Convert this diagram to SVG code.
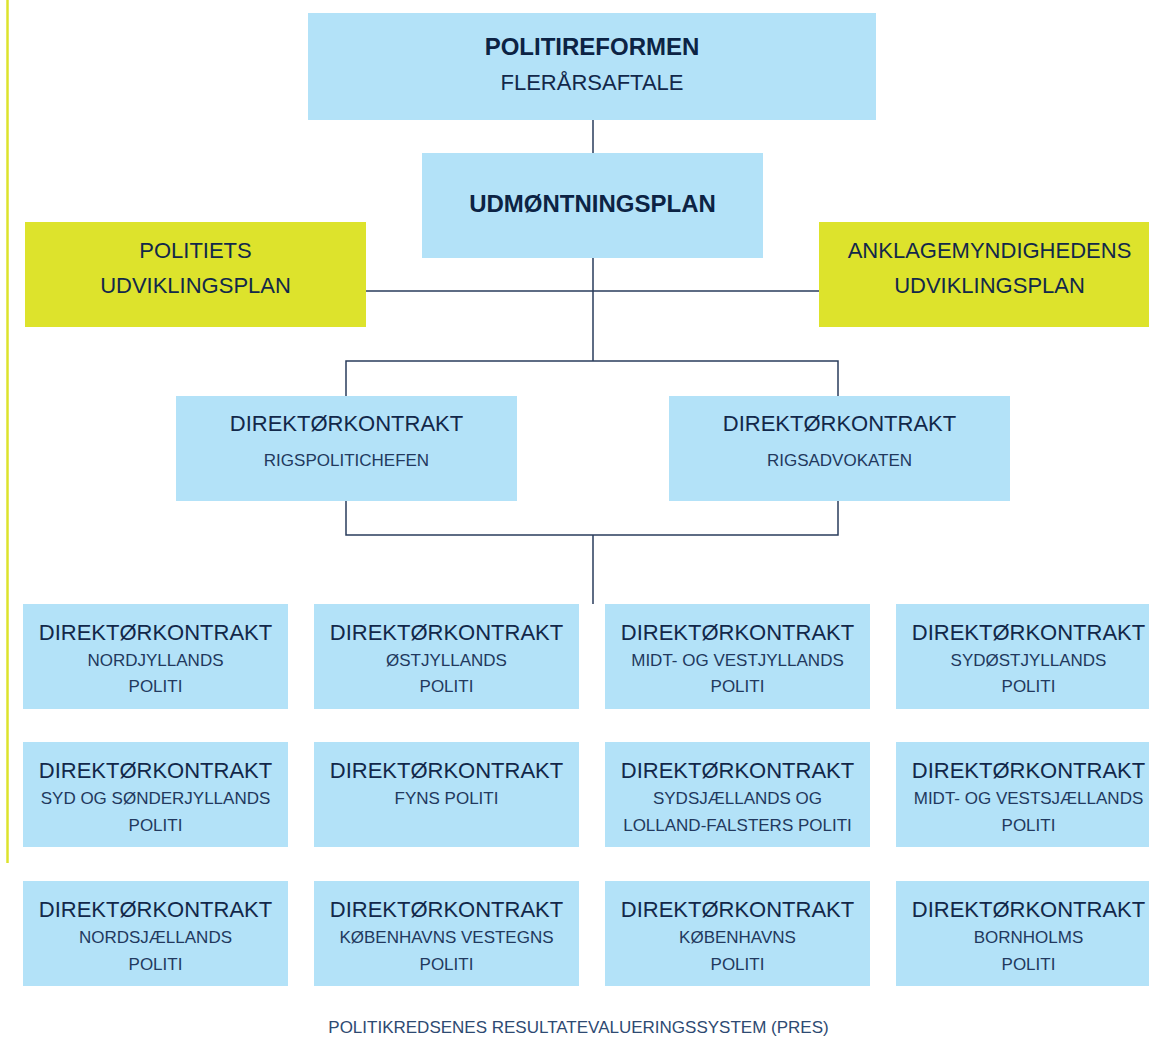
<svg xmlns="http://www.w3.org/2000/svg" width="1149" height="1038" viewBox="0 0 1149 1038">
<style>
.b{fill:#b3e2f8}
.y{fill:#dde32c}
text{font-family:"Liberation Sans",Arial,sans-serif;fill:#12284a;text-anchor:middle}
.t{font-size:22px}
.s{font-size:17px;fill:#22395e}
.h{font-size:24px;font-weight:bold;fill:#0c2344}
.f{font-size:17px;fill:#2e4a72}
.c{fill:none;stroke:#2a3d5c;stroke-width:1.5}
</style>
<rect x="0" y="0" width="1149" height="1038" fill="#ffffff"/>
<line x1="7.5" y1="0" x2="7.5" y2="863" stroke="#dde32c" stroke-width="2.5"/>
<g id="connectors" class="c">
<path d="M593 120V153M593 258V361M366 291H819M346 396V361H838V396M346 501V535H838V501M593 535V604"/>
</g>
<g id="politireformen"><rect class="b" x="308" y="13" width="568" height="107"/><text class="h" x="592" y="55">POLITIREFORMEN</text><text class="t" x="592" y="90">FLERÅRSAFTALE</text></g>
<g id="udmoentningsplan"><rect class="b" x="422" y="153" width="341" height="105"/><text class="h" x="592.5" y="212">UDMØNTNINGSPLAN</text></g>
<g id="politiets"><rect class="y" x="25" y="222" width="341" height="105"/><text class="t" x="195.5" y="258">POLITIETS</text><text class="t" x="195.5" y="293">UDVIKLINGSPLAN</text></g>
<g id="anklage"><rect class="y" x="819" y="222" width="341" height="105"/><text class="t" x="989.5" y="258">ANKLAGEMYNDIGHEDENS</text><text class="t" x="989.5" y="293">UDVIKLINGSPLAN</text></g>
<g id="rigspolitichefen"><rect class="b" x="176" y="396" width="341" height="105"/><text class="t" x="346.5" y="431">DIREKTØRKONTRAKT</text><text class="s" x="346.5" y="466">RIGSPOLITICHEFEN</text></g>
<g id="rigsadvokaten"><rect class="b" x="669" y="396" width="341" height="105"/><text class="t" x="839.5" y="431">DIREKTØRKONTRAKT</text><text class="s" x="839.5" y="466">RIGSADVOKATEN</text></g>

<g id="nordjylland"><rect class="b" x="23" y="604" width="265" height="105"/><text class="t" x="155.5" y="640">DIREKTØRKONTRAKT</text><text class="s" x="155.5" y="666">NORDJYLLANDS</text><text class="s" x="155.5" y="692">POLITI</text></g>
<g id="oestjylland"><rect class="b" x="314" y="604" width="265" height="105"/><text class="t" x="446.5" y="640">DIREKTØRKONTRAKT</text><text class="s" x="446.5" y="666">ØSTJYLLANDS</text><text class="s" x="446.5" y="692">POLITI</text></g>
<g id="midtvestjylland"><rect class="b" x="605" y="604" width="265" height="105"/><text class="t" x="737.5" y="640">DIREKTØRKONTRAKT</text><text class="s" x="737.5" y="666">MIDT- OG VESTJYLLANDS</text><text class="s" x="737.5" y="692">POLITI</text></g>
<g id="sydoestjylland"><rect class="b" x="896" y="604" width="265" height="105"/><text class="t" x="1028.5" y="640">DIREKTØRKONTRAKT</text><text class="s" x="1028.5" y="666">SYDØSTJYLLANDS</text><text class="s" x="1028.5" y="692">POLITI</text></g>

<g id="syd-soenderjylland"><rect class="b" x="23" y="742" width="265" height="105"/><text class="t" x="155.5" y="778">DIREKTØRKONTRAKT</text><text class="s" x="155.5" y="804">SYD OG SØNDERJYLLANDS</text><text class="s" x="155.5" y="831">POLITI</text></g>
<g id="fyn"><rect class="b" x="314" y="742" width="265" height="105"/><text class="t" x="446.5" y="778">DIREKTØRKONTRAKT</text><text class="s" x="446.5" y="804">FYNS POLITI</text></g>
<g id="sydsjaelland"><rect class="b" x="605" y="742" width="265" height="105"/><text class="t" x="737.5" y="778">DIREKTØRKONTRAKT</text><text class="s" x="737.5" y="804">SYDSJÆLLANDS OG</text><text class="s" x="737.5" y="831">LOLLAND-FALSTERS POLITI</text></g>
<g id="midtvestsjaelland"><rect class="b" x="896" y="742" width="265" height="105"/><text class="t" x="1028.5" y="778">DIREKTØRKONTRAKT</text><text class="s" x="1028.5" y="804">MIDT- OG VESTSJÆLLANDS</text><text class="s" x="1028.5" y="831">POLITI</text></g>

<g id="nordsjaelland"><rect class="b" x="23" y="881" width="265" height="105"/><text class="t" x="155.5" y="917">DIREKTØRKONTRAKT</text><text class="s" x="155.5" y="943">NORDSJÆLLANDS</text><text class="s" x="155.5" y="970">POLITI</text></g>
<g id="koebenhavns-vestegn"><rect class="b" x="314" y="881" width="265" height="105"/><text class="t" x="446.5" y="917">DIREKTØRKONTRAKT</text><text class="s" x="446.5" y="943">KØBENHAVNS VESTEGNS</text><text class="s" x="446.5" y="970">POLITI</text></g>
<g id="koebenhavn"><rect class="b" x="605" y="881" width="265" height="105"/><text class="t" x="737.5" y="917">DIREKTØRKONTRAKT</text><text class="s" x="737.5" y="943">KØBENHAVNS</text><text class="s" x="737.5" y="970">POLITI</text></g>
<g id="bornholm"><rect class="b" x="896" y="881" width="265" height="105"/><text class="t" x="1028.5" y="917">DIREKTØRKONTRAKT</text><text class="s" x="1028.5" y="943">BORNHOLMS</text><text class="s" x="1028.5" y="970">POLITI</text></g>

<text class="f" x="578.5" y="1033">POLITIKREDSENES RESULTATEVALUERINGSSYSTEM (PRES)</text>
</svg>
